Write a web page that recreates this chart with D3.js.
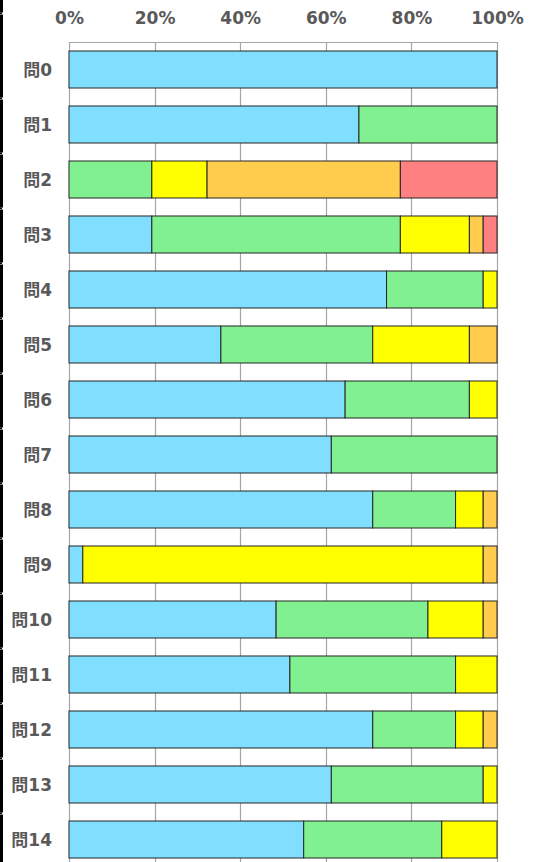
<!DOCTYPE html>
<html><head><meta charset="utf-8">
<script src="https://cdn.jsdelivr.net/npm/d3@7"></script>
<style>body{margin:0;background:#fff}svg{display:block}</style>
</head><body>
<script>
const categories = ["問0","問1","問2","問3","問4","問5","問6","問7","問8","問9","問10","問11","問12","問13","問14"];
const seriesNames = ["s1","s2","s3","s4","s5"];
const s1 = [31,21,0,6,23,11,20,19,22,1,15,16,22,19,17];
const s2 = [0,10,6,18,7,11,9,12,6,0,11,12,6,11,10];
const s3 = [0,0,4,5,1,7,2,0,2,29,4,3,2,1,4];
const s4 = [0,0,14,1,0,2,0,0,1,1,1,0,1,0,0];
const s5 = [0,0,7,1,0,0,0,0,0,0,0,0,0,0,0];
const tickValues = [0,0.2,0.4,0.6,0.8,1.0];
const colors = ["#80DFFF","#80F090","#FFFF00","#FFCC4D","#FF8080"];

const W=540,H=862;
const svg=d3.select("body").append("svg").attr("width",W).attr("height",H);
const x=d3.scaleLinear().domain([0,1]).range([69,497]);
const y=d3.scaleBand().domain(categories).range([42,867]).paddingInner(0.327).paddingOuter(0.1635);

const rows=categories.map((c,i)=>{const o={cat:c};const vals=[s1[i],s2[i],s3[i],s4[i],s5[i]];const t=d3.sum(vals);seriesNames.forEach((s,j)=>o[s]=vals[j]/t);return o;});
const stacked=d3.stack().keys(seriesNames)(rows);

// left black line fragments
const breaks=[14].concat(d3.range(1,16).map(k=>44+55*k));
let prev=0;
breaks.concat([H+2]).forEach(b=>{
  svg.append("rect").attr("x",0).attr("y",prev).attr("width",3).attr("height",Math.max(0,b-prev-1.5)).attr("fill","#000");
  svg.append("rect").attr("x",0).attr("y",b-1.5).attr("width",2).attr("height",1.5).attr("fill","#000");
  prev=b+0.5;
});

// grid
svg.append("g").selectAll("line").data(tickValues).join("line")
  .attr("x1",d=>Math.round(x(d))+0.5).attr("x2",d=>Math.round(x(d))+0.5)
  .attr("y1",42).attr("y2",H).attr("stroke","#A6A6A6").attr("stroke-width",1.2);
svg.append("line").attr("x1",x(0)).attr("x2",x(1)).attr("y1",42.5).attr("y2",42.5).attr("stroke","#A6A6A6").attr("stroke-width",1.2);

// bars
svg.append("g").selectAll("g").data(stacked).join("g").attr("fill",(d,i)=>colors[i])
  .selectAll("rect").data(d=>d.filter(p=>p[1]-p[0]>0)).join("rect")
  .attr("x",d=>x(d[0])).attr("width",d=>x(d[1])-x(d[0]))
  .attr("y",d=>y(d.data.cat)).attr("height",y.bandwidth())
  .attr("stroke","#262626").attr("stroke-width",1);

// axes
const ax=svg.append("g").attr("transform","translate(0,24)")
  .call(d3.axisTop(x).tickValues(tickValues).tickSize(0).tickPadding(0).tickFormat(d3.format(".0%")));
ax.select(".domain").remove();
ax.selectAll("text").attr("font-family","'DejaVu Sans', Verdana, sans-serif").attr("font-weight","bold").attr("font-size","17px").attr("fill","#595959").attr("dy","0");

const ay=svg.append("g").attr("transform","translate(52,0)")
  .call(d3.axisLeft(y).tickSize(0).tickPadding(0));
ay.select(".domain").remove();
ay.selectAll("text").attr("font-family","'DejaVu Sans','Noto Sans CJK JP',sans-serif").attr("font-weight","bold").attr("font-size","17px").attr("fill","#595959").attr("dy","0.36em");
</script>
</body></html>
